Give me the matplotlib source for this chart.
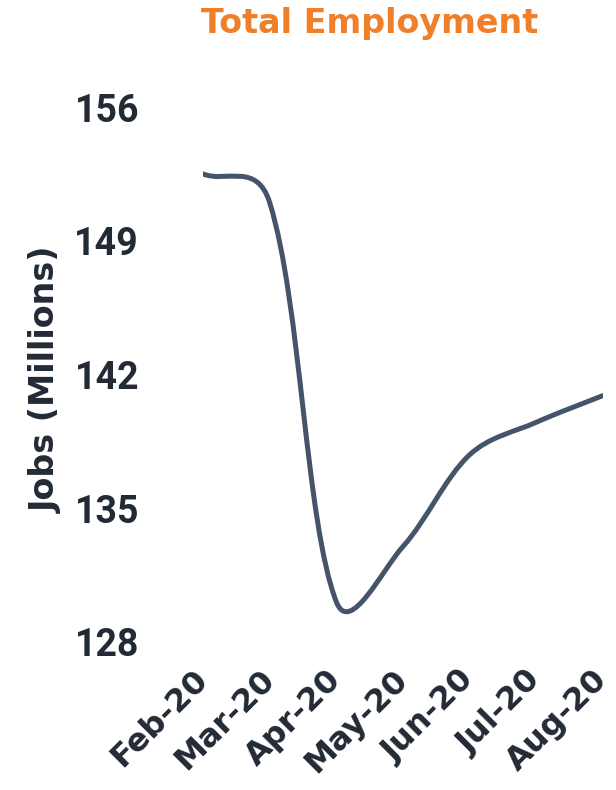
import numpy as np
import matplotlib.pyplot as plt
from matplotlib.path import Path
from matplotlib.patches import PathPatch

# Datos (millones de empleos)
meses = ['Feb-20', 'Mar-20', 'Apr-20', 'May-20', 'Jun-20', 'Jul-20', 'Aug-20']
empleo = [152.5, 151.0, 130.1, 133.0, 137.8, 139.5, 140.9]
yticks = [128, 135, 142, 149, 156]

color_linea = '#44546a'
color_texto = '#222a35'
color_titulo = '#f07f2a'


def camino_suave(x, y, sx, sy, alfa=0.4):
    # curva suavizada tipo Excel: tangente (P[i+1]-P[i-1]) repartida
    # entre tramos, mezcla de reparto uniforme y por longitud en pantalla
    p = np.column_stack([x, y]).astype(float)
    esc = np.array([sx, sy])
    n = len(p)
    c_in = [None] * n
    c_out = [None] * n
    for i in range(n):
        a = p[max(i - 1, 0)]
        b = p[min(i + 1, n - 1)]
        d = b - a
        l_in = np.linalg.norm((p[i] - a) * esc)
        l_out = np.linalg.norm((b - p[i]) * esc)
        tot = l_in + l_out
        if i == 0 or i == n - 1:
            w_in, w_out = l_in / tot, l_out / tot
        else:
            w_in = alfa * 0.5 + (1 - alfa) * l_in / tot
            w_out = alfa * 0.5 + (1 - alfa) * l_out / tot
        c_in[i] = p[i] - d * w_in / 3
        c_out[i] = p[i] + d * w_out / 3
    verts = [p[0]]
    codes = [Path.MOVETO]
    for i in range(n - 1):
        verts += [c_out[i], c_in[i + 1], p[i + 1]]
        codes += [Path.CURVE4] * 3
    return Path(verts, codes)


fig = plt.figure(figsize=(6.16, 7.9), dpi=100)
ax = fig.add_axes([203 / 616, 148 / 790, 400 / 616, 535 / 790])

ax.set_xlim(0, len(meses) - 1)
ax.set_ylim(128, 156)

x = np.arange(len(meses))
# pixeles por unidad en cada eje
sx = 400 / (len(meses) - 1)
sy = 535 / (156 - 128)
camino = camino_suave(x, empleo, sx, sy)
ax.add_patch(PathPatch(camino, facecolor='none', edgecolor=color_linea,
                       linewidth=3.6, capstyle='round', joinstyle='round'))

ax.set_yticks(yticks)
ax.set_yticklabels([str(v) for v in yticks], fontfamily='Roboto', fontweight='bold', fontsize=27)
ax.set_xticks(x)
ax.set_xticklabels(meses, rotation=45, ha='right', va='center', rotation_mode='anchor',
                   fontweight='bold', fontsize=23)

for s in ax.spines.values():
    s.set_visible(False)
ax.tick_params(axis='both', length=0, colors=color_texto)
ax.tick_params(axis='y', pad=46)
ax.tick_params(axis='x', pad=24)

fig.text(46 / 616, 1 - 380 / 790, 'Jobs (Millions)', rotation=90, ha='center', va='center',
         fontsize=24, fontweight='bold', color=color_texto)
fig.text(370 / 616, 1 - 24 / 790, 'Total Employment', ha='center', va='center',
         fontsize=24, fontweight='bold', color=color_titulo)

fig.savefig('out.png', dpi=100)
